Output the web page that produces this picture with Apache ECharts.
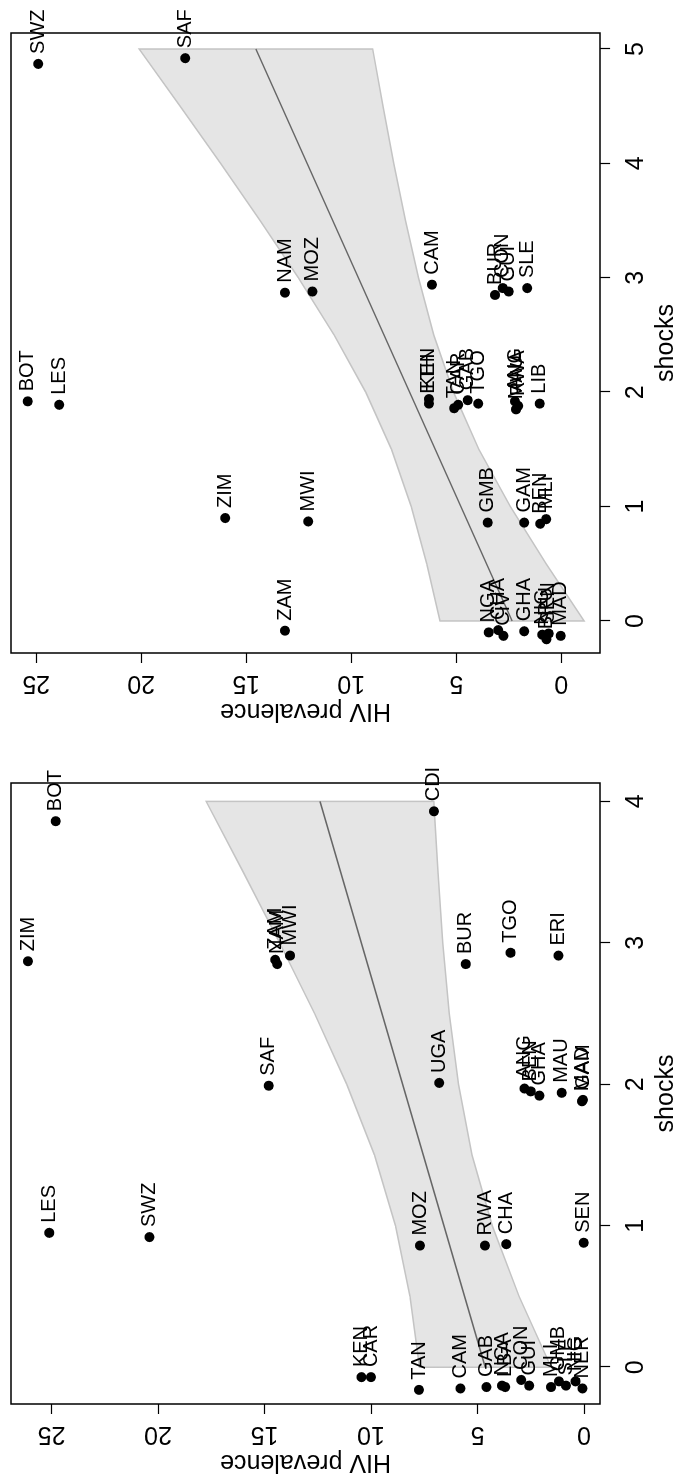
<!DOCTYPE html>
<html>
<head>
<meta charset="utf-8">
<script src="https://cdn.jsdelivr.net/npm/echarts@6/dist/echarts.min.js"></script>
<style>
    html, body { margin: 0; padding: 0; background: #fff; width: 684px; height: 1480px; overflow: hidden; }
    /* the plot is drawn landscape, then turned a quarter turn to the left like the reference */
    #chart { position: absolute; left: 0; top: 0; width: 1480px; height: 684px;
             transform-origin: 0 0; transform: translate(0, 1480px) rotate(-90deg); }
</style>
</head>
<body>
<div id="chart"></div>
<script>
'use strict';

// panel A (left before turning, bottom of the page)
var namesA = ['BOT', 'CDI', 'ZIM', 'ZAM', 'NAM', 'MWI', 'BUR', 'TGO', 'ERI', 'SAF', 'UGA', 'ANG', 'BEN', 'GHA',
    'MAU', 'GAM', 'MAD', 'LES', 'SWZ', 'MOZ', 'RWA', 'CHA', 'SEN', 'KEN', 'CAR', 'TAN', 'CAM', 'GAB', 'NGA',
    'LBA', 'CON', 'GUI', 'MLI', 'GMB', 'SLE', 'NIG', 'NER'];
var shocksA = [3.86, 3.93, 2.87, 2.88, 2.85, 2.91, 2.85, 2.93, 2.91, 1.99, 2.01, 1.97, 1.95, 1.92,
    1.94, 1.89, 1.88, 0.95, 0.92, 0.86, 0.86, 0.87, 0.88, -0.07, -0.07, -0.16, -0.15, -0.14, -0.13,
    -0.14, -0.09, -0.13, -0.14, -0.10, -0.13, -0.10, -0.15];
var hivA = [24.8, 7.05, 26.1, 14.5, 14.4, 13.8, 5.55, 3.45, 1.2, 14.8, 6.8, 2.8, 2.5, 2.1,
    1.05, 0.05, 0.1, 25.1, 20.4, 7.7, 4.65, 3.65, 0.02, 10.45, 10.0, 7.75, 5.8, 4.58, 3.85,
    3.7, 2.95, 2.58, 1.55, 1.18, 0.85, 0.4, 0.08];
var bandShocksA = [0, 0.5, 1, 1.5, 2, 2.5, 3, 3.5, 4];
var bandUpperA = [7.73, 8.17, 8.85, 9.84, 11.14, 12.65, 14.29, 16.0, 17.74];
var bandLowerA = [1.55, 3.05, 4.31, 5.26, 5.90, 6.33, 6.63, 6.86, 7.06];
var fitShocksA = [0, 4];
var fitHivA = [4.64, 12.4];
var shockTicksA = [0, 1, 2, 3, 4];

// panel B (right before turning, top of the page)
var namesB = ['SWZ', 'SAF', 'NAM', 'MOZ', 'CAM', 'BUR', 'CON', 'GUI', 'SLE', 'BOT', 'LES', 'KEN', 'ETH',
    'TAN', 'CAR', 'GAB', 'TGO', 'ANG', 'RWA', 'MAU', 'LIB', 'ZIM', 'MWI', 'GMB', 'GAM', 'BEN', 'MLI',
    'ZAM', 'NGA', 'CHA', 'CIV', 'GHA', 'NIG', 'BRU', 'SEN', 'MAD'];
var shocksB = [4.87, 4.92, 2.87, 2.88, 2.94, 2.85, 2.91, 2.88, 2.91, 1.92, 1.89, 1.94, 1.90,
    1.86, 1.89, 1.93, 1.90, 1.92, 1.88, 1.85, 1.90, 0.90, 0.87, 0.86, 0.86, 0.85, 0.89,
    -0.085, -0.10, -0.08, -0.13, -0.09, -0.12, -0.16, -0.11, -0.13];
var hivB = [24.9, 17.9, 13.15, 11.85, 6.15, 3.15, 2.78, 2.5, 1.62, 25.4, 23.9, 6.3, 6.3,
    5.1, 4.9, 4.45, 3.95, 2.2, 2.05, 2.15, 1.02, 16.0, 12.05, 3.5, 1.76, 1.0, 0.72,
    13.15, 3.45, 3.0, 2.75, 1.76, 0.9, 0.7, 0.6, 0.02];
var bandShocksB = [0, 0.5, 1, 1.5, 2, 2.5, 3, 3.5, 4, 4.5, 5];
var bandUpperB = [5.77, 6.40, 7.14, 8.08, 9.31, 10.81, 12.52, 14.34, 16.22, 18.15, 20.1];
var bandLowerB = [-1.09, 0.72, 2.42, 3.92, 5.13, 6.07, 6.80, 7.42, 7.98, 8.49, 8.98];
var fitShocksB = [0, 5];
var fitHivB = [2.34, 14.54];
var shockTicksB = [0, 1, 2, 3, 4, 5];

var hivTicks = [0, 5, 10, 15, 20, 25];

var FONT = 'Liberation Sans, Arial, Helvetica, sans-serif';

// grey confidence band, polygon through upper edge then back along lower edge
function bandSeries(idx, xs, up, lo) {
    return {
        type: 'custom', xAxisIndex: idx, yAxisIndex: idx, silent: true, z: 1,
        data: [[xs[0], up[0]]],
        renderItem: function (params, api) {
            var pts = [];
            for (var i = 0; i < xs.length; i++) pts.push(api.coord([xs[i], up[i]]));
            for (var j = xs.length - 1; j >= 0; j--) pts.push(api.coord([xs[j], lo[j]]));
            return {
                type: 'polygon', shape: {points: pts},
                style: {fill: '#e5e5e5', stroke: '#c4c4c4', lineWidth: 1.5}
            };
        }
    };
}

function fitSeries(idx, xs, ys) {
    var d = [];
    for (var i = 0; i < xs.length; i++) d.push([xs[i], ys[i]]);
    return {
        type: 'line', xAxisIndex: idx, yAxisIndex: idx, silent: true, z: 2,
        data: d, symbol: 'none', lineStyle: {color: '#666', width: 1.5}
    };
}

function pointSeries(idx, names, xs, ys) {
    var d = [];
    for (var i = 0; i < names.length; i++) d.push({name: names[i], value: [xs[i], ys[i]]});
    return {
        type: 'scatter', xAxisIndex: idx, yAxisIndex: idx, silent: true, z: 3,
        data: d, symbolSize: 10, itemStyle: {color: '#000', opacity: 1},
        label: {
            show: true, position: 'right', distance: 5, formatter: '{b}',
            color: '#000', fontSize: 20, fontFamily: FONT
        }
    };
}

function shockAxis(idx, min, max, ticks) {
    return {
        gridIndex: idx, type: 'value', min: min, max: max,
        name: 'shocks', nameLocation: 'middle', nameGap: 46,
        nameTextStyle: {fontSize: 25, color: '#000', fontFamily: FONT},
        axisLine: {show: false, onZero: false},
        splitLine: {show: false},
        axisTick: {show: true, length: 10, lineStyle: {color: '#000', width: 1.2}, customValues: ticks},
        axisLabel: {fontSize: 25, color: '#000', fontFamily: FONT, margin: 24, customValues: ticks}
    };
}

function hivAxis(idx, min, max) {
    return {
        gridIndex: idx, type: 'value', min: min, max: max, position: 'left',
        name: 'HIV prevalence', nameLocation: 'middle', nameGap: 45, nameRotate: 90,
        nameTextStyle: {fontSize: 25, color: '#000', fontFamily: FONT},
        axisLine: {show: false, onZero: false},
        splitLine: {show: false},
        axisTick: {show: true, length: 10, lineStyle: {color: '#000', width: 1.2}, customValues: hivTicks},
        axisLabel: {rotate: 90, fontSize: 25, color: '#000', fontFamily: FONT, margin: 17, customValues: hivTicks}
    };
}

var myChart = echarts.init(document.getElementById('chart'), null, {renderer: 'canvas'});
var option = {
    animation: false,
    backgroundColor: '#fff',
    grid: [
        {left: 76, top: 11, width: 621, height: 606, show: true, borderColor: '#000', borderWidth: 1.5},
        {left: 827, top: 11, width: 620, height: 606, show: true, borderColor: '#000', borderWidth: 1.5}
    ],
    xAxis: [shockAxis(0, -0.26, 4.13, shockTicksA), shockAxis(1, -0.28, 5.14, shockTicksB)],
    yAxis: [hivAxis(0, -0.75, 26.9), hivAxis(1, -1.85, 26.2)],
    series: [
        bandSeries(0, bandShocksA, bandUpperA, bandLowerA),
        fitSeries(0, fitShocksA, fitHivA),
        pointSeries(0, namesA, shocksA, hivA),
        bandSeries(1, bandShocksB, bandUpperB, bandLowerB),
        fitSeries(1, fitShocksB, fitHivB),
        pointSeries(1, namesB, shocksB, hivB)
    ]
};
myChart.setOption(option);
</script>
</body>
</html>
